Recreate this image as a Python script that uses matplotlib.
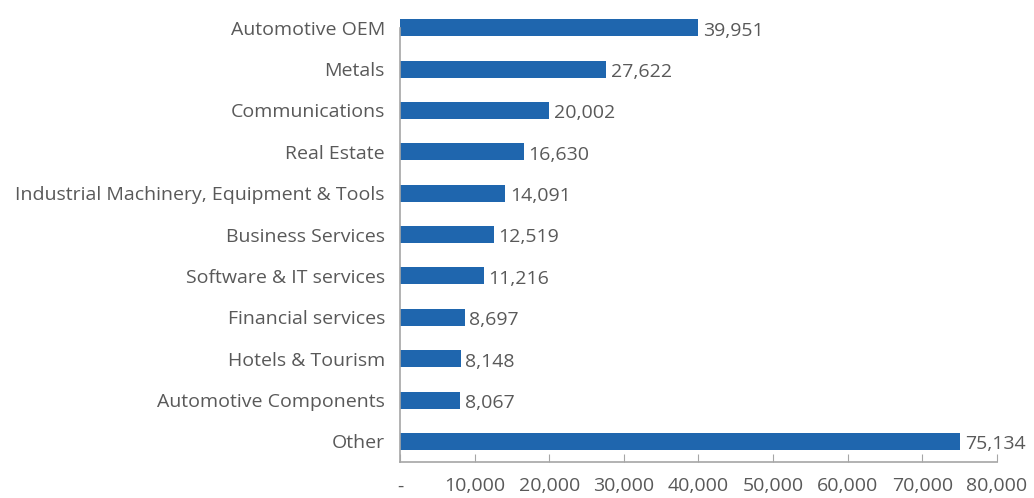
import matplotlib
matplotlib.use("Agg")
import matplotlib.pyplot as plt
from matplotlib.ticker import FuncFormatter

# data, top to bottom as in the chart
sectors = ["Automotive OEM", "Metals", "Communications", "Real Estate",
           "Industrial Machinery, Equipment & Tools", "Business Services",
           "Software & IT services", "Financial services", "Hotels & Tourism",
           "Automotive Components", "Other"]
values = [39951, 27622, 20002, 16630, 14091, 12519, 11216, 8697, 8148, 8067, 75134]
xticks = [0, 10000, 20000, 30000, 40000, 50000, 60000, 70000, 80000]

bar_col = "#1F66AE"
txt_col = "#595959"
fs = 14
plt.rcParams['font.family'] = ['Open Sans', 'DejaVu Sans']

fig = plt.figure(figsize=(10.34, 4.98), dpi=100)
ax = fig.add_axes([0.387, 0.072, 0.577, 0.914])

n = len(sectors)
ypos = list(range(n))[::-1]
ax.barh(ypos, values, height=0.41, color=bar_col)

for y, v in zip(ypos, values):
    ax.text(v + 600, y - 0.07, f"{v:,}", va="center", ha="left", fontsize=fs, color=txt_col)

ax.set_yticks(ypos)
ax.set_yticklabels(sectors, fontsize=fs, color=txt_col)
ax.set_xlim(0, 80000)
ax.set_ylim(-0.5, n - 0.5)
ax.set_xticks(xticks)
ax.xaxis.set_major_formatter(FuncFormatter(lambda x, p: "-" if x == 0 else f"{int(x):,}"))
ax.tick_params(axis="x", direction="in", length=6, color="#A6A6A6", labelsize=fs,
               labelcolor=txt_col, pad=11)
ax.tick_params(axis="y", length=0, pad=11)

for s in ["top", "right"]:
    ax.spines[s].set_visible(False)
for s in ["left", "bottom"]:
    ax.spines[s].set_color("#A6A6A6")
    ax.spines[s].set_linewidth(1.2)
ax.spines["left"].set_bounds(-0.5, n - 1)

fig.savefig("out.png", dpi=100)
